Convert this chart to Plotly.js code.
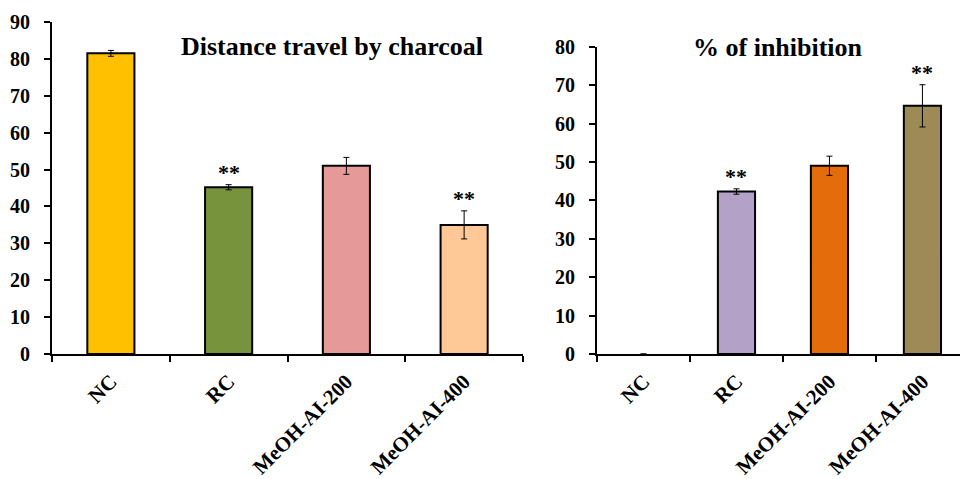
<!DOCTYPE html>
<html>
<head>
<meta charset="utf-8">
<script src="https://cdn.plot.ly/plotly-3.0.1.min.js"></script>
<style>html,body{margin:0;padding:0;background:#fff;}#chart{width:960px;height:479px;}</style>
</head>
<body>
<div id="chart"></div>
<script>
// ---- Data ----
var categories = ["NC", "RC", "MeOH-AI-200", "MeOH-AI-400"];

var distanceValues = [81.5, 45.2, 51.0, 35.0];
var distanceErrors = [0.8, 0.7, 2.3, 3.8];
var distanceSig = ["", "**", "", "**"];
var distanceColors = ["#FFC000", "#77933C", "#E59A99", "#FFC896"];

var inhibitionValues = [0, 42.3, 49.0, 64.6];
var inhibitionErrors = [null, 0.7, 2.5, 5.5];
var inhibitionSig = ["", "**", "", "**"];
var inhibitionColors = ["#FFFFFF", "#B4A1C7", "#E46C0A", "#9C8B57"];

var leftTitle = "Distance travel by charcoal";
var rightTitle = "% of inhibition";

// ---- Style ----
var FONT = "Liberation Serif";
var W = 960, H = 479;
function px(x){return x / W;}
function py(y){return (H - y) / H;}

var traces = [
  {
    type: "bar", x: categories, y: distanceValues, xaxis: "x", yaxis: "y",
    width: 0.4,
    marker: {color: distanceColors, line: {color: "#000", width: 2}},
    error_y: {type: "data", array: distanceErrors, visible: true, color: "#000", thickness: 1, width: 3},
    hoverinfo: "skip"
  },
  {
    type: "bar", x: categories, y: inhibitionValues, xaxis: "x2", yaxis: "y2",
    width: 0.4,
    marker: {color: inhibitionColors, line: {color: "#000", width: inhibitionValues.map(function(v){return v > 0 ? 2 : 0;})}},
    error_y: {type: "data", array: inhibitionErrors, visible: true, color: "#000", thickness: 1, width: 3},
    hoverinfo: "skip"
  }
];

var annotations = [];
categories.forEach(function(c, i){
  if (distanceSig[i]) annotations.push({
    xref: "x", yref: "y", x: c, y: distanceValues[i] + distanceErrors[i],
    text: "<b>" + distanceSig[i] + "</b>", showarrow: false, yanchor: "bottom", yshift: -2,
    font: {family: FONT, size: 22, color: "#000"}
  });
  if (inhibitionSig[i]) annotations.push({
    xref: "x2", yref: "y2", x: c, y: inhibitionValues[i] + (inhibitionErrors[i] || 0),
    text: "<b>" + inhibitionSig[i] + "</b>", showarrow: false, yanchor: "bottom", yshift: -2,
    font: {family: FONT, size: 22, color: "#000"}
  });
});
annotations.push({
  xref: "paper", yref: "paper", x: px(332), y: py(46), xanchor: "center", yanchor: "middle",
  text: "<b>" + leftTitle + "</b>", showarrow: false,
  font: {family: FONT, size: 26, color: "#000"}
});
annotations.push({
  xref: "paper", yref: "paper", x: px(778), y: py(47), xanchor: "center", yanchor: "middle",
  text: "<b>" + rightTitle + "</b>", showarrow: false,
  font: {family: FONT, size: 26, color: "#000"}
});

var yTickFont = {family: FONT, size: 20, color: "#000", weight: "bold"};
var xTickFont = {family: FONT, size: 21, color: "#000", weight: "bold"};

function xAxis(domain, anchor, range){
  return {
    domain: domain, anchor: anchor, type: "category", range: range,
    showline: true, linecolor: "#000", linewidth: 2,
    ticks: "outside", tickson: "boundaries", ticklen: 6, tickwidth: 2, tickcolor: "#000",
    tickangle: -45, tickfont: xTickFont, showgrid: false, zeroline: false,
    ticklabelstandoff: 5, fixedrange: true
  };
}
function yAxis(domain, anchor, range){
  return {
    domain: domain, anchor: anchor, range: range, dtick: 10,
    showline: true, linecolor: "#000", linewidth: 2,
    ticks: "outside", ticklen: 6, tickwidth: 2, tickcolor: "#000",
    tickfont: yTickFont, showgrid: false, zeroline: false, ticklabelstandoff: 10,
    fixedrange: true
  };
}

var layout = {
  width: W, height: H,
  margin: {l: 0, r: 0, t: 0, b: 0},
  paper_bgcolor: "#fff", plot_bgcolor: "#fff",
  showlegend: false,
  font: {family: FONT, color: "#000"},
  xaxis: xAxis([px(52), px(523)], "y", [-0.5, 3.5]),
  yaxis: yAxis([py(354), py(22)], "x", [0, 90]),
  xaxis2: xAxis([px(597), 1], "y2", [-0.5, 3.404]),
  yaxis2: yAxis([py(354), py(46.7)], "x2", [0, 80]),
  annotations: annotations
};

Plotly.newPlot("chart", traces, layout, {displayModeBar: false, staticPlot: true});
</script>
</body>
</html>
